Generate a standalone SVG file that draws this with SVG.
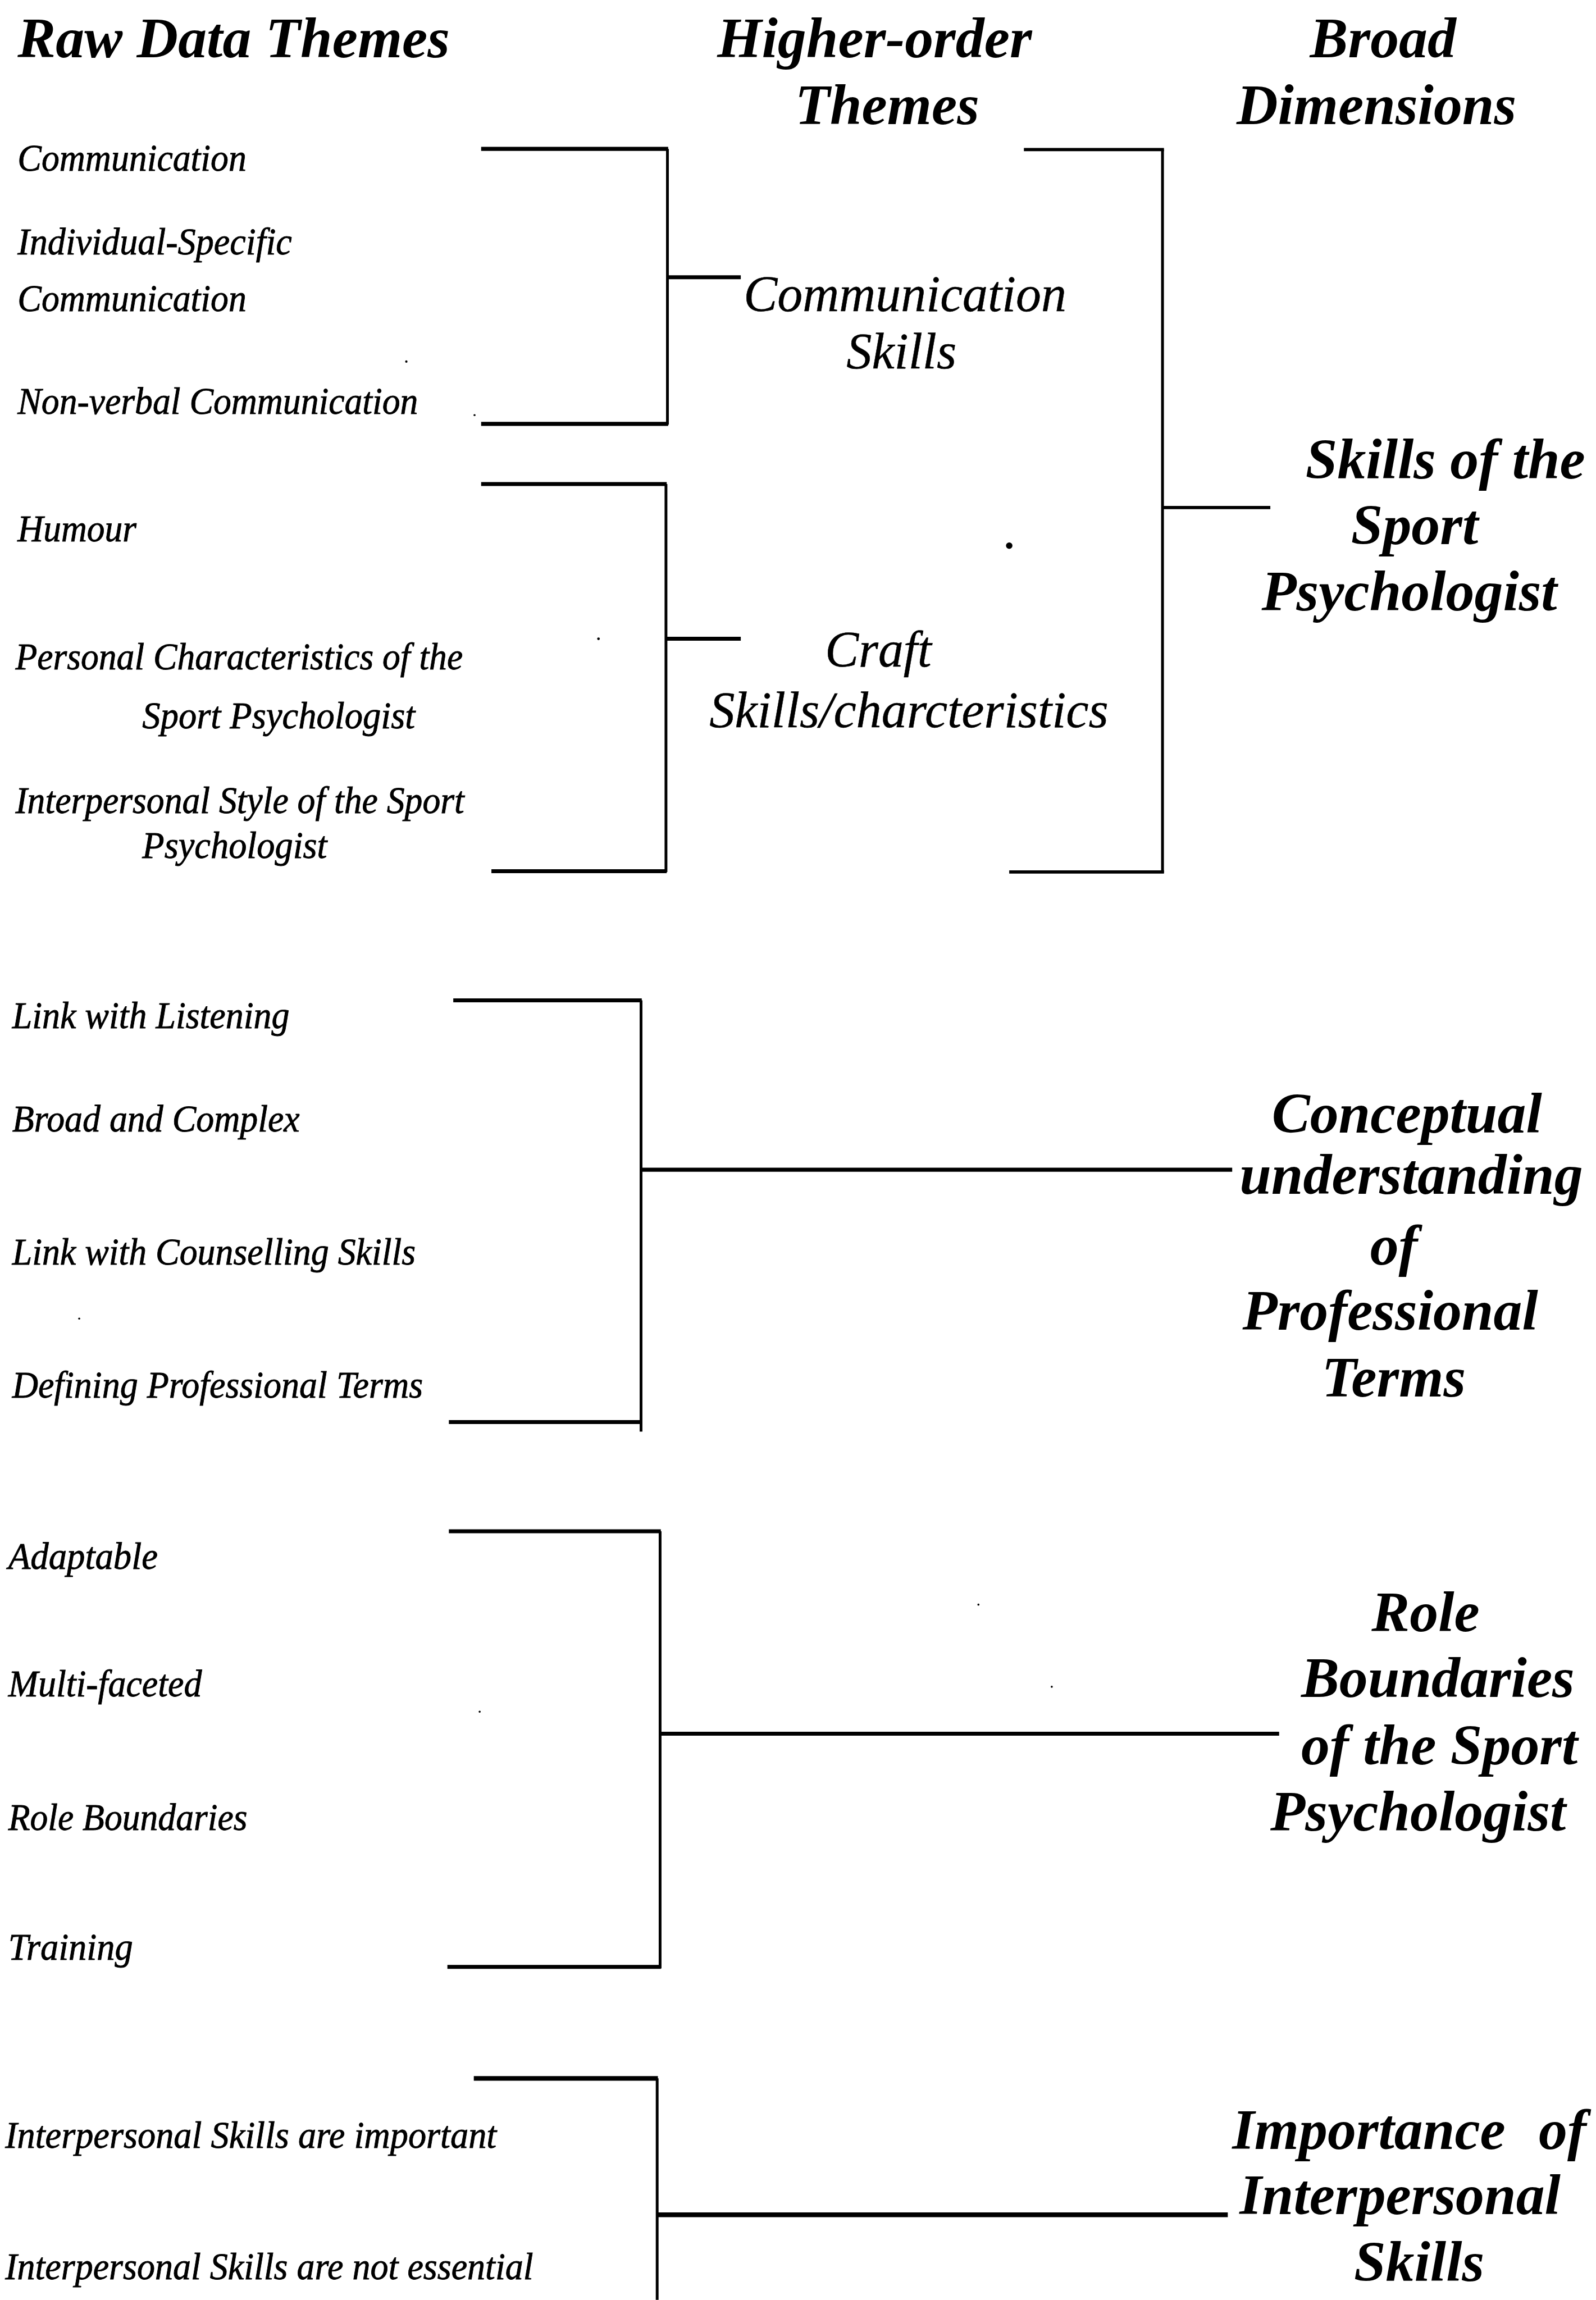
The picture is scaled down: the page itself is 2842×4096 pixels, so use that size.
<svg xmlns="http://www.w3.org/2000/svg" width="2842" height="4096" viewBox="0 0 2842 4096">
  <style>
    .hdr { font-family: "Liberation Serif", "Times New Roman", serif; font-style: italic; font-weight: bold; font-size: 39px; fill: #000; }
    .dim { font-family: "Liberation Serif", "Times New Roman", serif; font-style: italic; font-weight: bold; font-size: 39px; fill: #000; }
    .raw { font-family: "Liberation Serif", "Times New Roman", serif; font-style: italic; font-size: 26px; fill: #000; stroke: #000; stroke-width: 0.35; }
    .ho  { font-family: "Liberation Serif", "Times New Roman", serif; font-style: italic; font-size: 35px; fill: #000; stroke: #000; stroke-width: 0.2; }
    .arm { fill: none; stroke: #000; stroke-width: 2.7; stroke-linecap: butt; }
    .arm-thin { fill: none; stroke: #000; stroke-width: 2.2; }
    .arm-heavy { fill: none; stroke: #000; stroke-width: 3.2; }
    .stem { fill: none; stroke: #000; stroke-width: 1.9; }
    .speck { fill: #000; }
  </style>
  <rect x="0" y="0" width="2842" height="4096" fill="#fff"/>
  <!-- layout drawn on a 1088-wide grid, scaled up to the page -->
  <g transform="scale(2.6121)">

    <!-- column headings -->
    <g id="heading-raw"><text class="hdr" x="12" y="39">Raw Data Themes</text></g>
    <g id="heading-higher">
      <text class="hdr" x="489" y="39">Higher-order</text>
      <text class="hdr" x="542" y="84.5">Themes</text>
    </g>
    <g id="heading-broad">
      <text class="hdr" x="893" y="39">Broad</text>
      <text class="hdr" x="843" y="84.5">Dimensions</text>
    </g>

    <!-- bracket lines -->
    <g id="connectors">
      <!-- communication skills bracket -->
      <path class="arm" d="M328,101.5 H455.5 M328,289 H455.5 M454.5,189 H505"/>
      <path class="stem" d="M455,101.5 V289.5"/>
      <!-- craft skills bracket -->
      <path class="arm" d="M328,330 H454.5 M335,594 H454.5 M453.5,435.5 H505"/>
      <path class="stem" d="M454,330 V594.5"/>
      <!-- skills of the sport psychologist bracket -->
      <path class="arm-thin" d="M698,102 H793.5 M688,594.5 H793.5 M792.5,346 H866"/>
      <path class="stem" d="M792.5,102 V595"/>
      <!-- conceptual understanding bracket -->
      <path class="arm" d="M309,682 H437.5 M306,969.5 H437.5 M437,797.5 H840"/>
      <path class="stem" d="M437,682 V976"/>
      <!-- role boundaries bracket -->
      <path class="arm" d="M306,1044 H450.5 M305,1341 H450.5 M450,1182 H872"/>
      <path class="stem" d="M450,1044 V1342"/>
      <!-- importance of interpersonal skills bracket -->
      <path class="arm-heavy" d="M323,1417 H448.5 M448,1510 H837"/>
      <path class="stem" d="M448,1417 V1568"/>
    </g>

    <!-- raw data themes -->
    <g id="raw-communication"><text class="raw" x="12" y="116.5" textLength="156" lengthAdjust="spacingAndGlyphs">Communication</text></g>
    <g id="raw-individual-specific">
      <text class="raw" x="12" y="173.5" textLength="187" lengthAdjust="spacingAndGlyphs">Individual-Specific</text>
      <text class="raw" x="12" y="212" textLength="156" lengthAdjust="spacingAndGlyphs">Communication</text>
    </g>
    <g id="raw-non-verbal"><text class="raw" x="12" y="282" textLength="273" lengthAdjust="spacingAndGlyphs">Non-verbal Communication</text></g>
    <g id="raw-humour"><text class="raw" x="12" y="369" textLength="81" lengthAdjust="spacingAndGlyphs">Humour</text></g>
    <g id="raw-personal-characteristics">
      <text class="raw" x="10.5" y="456.5" textLength="305" lengthAdjust="spacingAndGlyphs">Personal Characteristics of the</text>
      <text class="raw" x="97" y="496.5" textLength="186" lengthAdjust="spacingAndGlyphs">Sport Psychologist</text>
    </g>
    <g id="raw-interpersonal-style">
      <text class="raw" x="10.5" y="554.5" textLength="306" lengthAdjust="spacingAndGlyphs">Interpersonal Style of the Sport</text>
      <text class="raw" x="97" y="585" textLength="126" lengthAdjust="spacingAndGlyphs">Psychologist</text>
    </g>
    <g id="raw-link-listening"><text class="raw" x="8.3" y="701" textLength="189" lengthAdjust="spacingAndGlyphs">Link with Listening</text></g>
    <g id="raw-broad-complex"><text class="raw" x="8.3" y="771.5" textLength="196" lengthAdjust="spacingAndGlyphs">Broad and Complex</text></g>
    <g id="raw-link-counselling"><text class="raw" x="8.3" y="862" textLength="275" lengthAdjust="spacingAndGlyphs">Link with Counselling Skills</text></g>
    <g id="raw-defining-terms"><text class="raw" x="8.3" y="953" textLength="280" lengthAdjust="spacingAndGlyphs">Defining Professional Terms</text></g>
    <g id="raw-adaptable"><text class="raw" x="5.6" y="1069.5" textLength="102" lengthAdjust="spacingAndGlyphs">Adaptable</text></g>
    <g id="raw-multi-faceted"><text class="raw" x="5.6" y="1156.6" textLength="132" lengthAdjust="spacingAndGlyphs">Multi-faceted</text></g>
    <g id="raw-role-boundaries"><text class="raw" x="5.6" y="1247.5" textLength="163" lengthAdjust="spacingAndGlyphs">Role Boundaries</text></g>
    <g id="raw-training"><text class="raw" x="5.6" y="1336" textLength="85" lengthAdjust="spacingAndGlyphs">Training</text></g>
    <g id="raw-skills-important"><text class="raw" x="3.5" y="1464.5" textLength="335" lengthAdjust="spacingAndGlyphs">Interpersonal Skills are important</text></g>
    <g id="raw-skills-not-essential"><text class="raw" x="3.5" y="1554" textLength="360" lengthAdjust="spacingAndGlyphs">Interpersonal Skills are not essential</text></g>

    <!-- higher-order themes -->
    <g id="theme-communication-skills">
      <text class="ho" x="507" y="212" textLength="220" lengthAdjust="spacingAndGlyphs">Communication</text>
      <text class="ho" x="577" y="251" textLength="75" lengthAdjust="spacingAndGlyphs">Skills</text>
    </g>
    <g id="theme-craft-skills">
      <text class="ho" x="562.5" y="454.5" textLength="72.5" lengthAdjust="spacingAndGlyphs">Craft</text>
      <text class="ho" x="483.6" y="495.8" textLength="272" lengthAdjust="spacingAndGlyphs">Skills/charcteristics</text>
    </g>

    <!-- broad dimensions -->
    <g id="dimension-skills">
      <text class="dim" x="890" y="326">Skills of the</text>
      <text class="dim" x="921" y="371">Sport</text>
      <text class="dim" x="860" y="416">Psychologist</text>
    </g>
    <g id="dimension-conceptual">
      <text class="dim" x="867" y="772">Conceptual</text>
      <text class="dim" x="845" y="814">understanding</text>
      <text class="dim" x="934" y="862">of</text>
      <text class="dim" x="847" y="906.5">Professional</text>
      <text class="dim" x="901" y="952">Terms</text>
    </g>
    <g id="dimension-role">
      <text class="dim" x="935" y="1112">Role</text>
      <text class="dim" x="887" y="1157">Boundaries</text>
      <text class="dim" x="887" y="1203">of the Sport</text>
      <text class="dim" x="866" y="1248">Psychologist</text>
    </g>
    <g id="dimension-importance">
      <text class="dim" y="1465"><tspan x="840">Importance</tspan><tspan x="1049">of</tspan></text>
      <text class="dim" x="845" y="1509.5">Interpersonal</text>
      <text class="dim" x="923" y="1555">Skills</text>
    </g>

    <!-- loose specks on the sheet -->
    <g id="specks">
      <circle class="speck" cx="688" cy="372" r="2.2"/>
      <circle class="speck" cx="277" cy="246.5" r="0.8"/>
      <circle class="speck" cx="323.5" cy="283" r="0.7"/>
      <circle class="speck" cx="408" cy="435.5" r="0.9"/>
      <circle class="speck" cx="54" cy="899" r="0.7"/>
      <circle class="speck" cx="667" cy="1094" r="0.7"/>
      <circle class="speck" cx="717" cy="1150" r="0.7"/>
      <circle class="speck" cx="327" cy="1167" r="0.7"/>
    </g>
  </g>
</svg>
